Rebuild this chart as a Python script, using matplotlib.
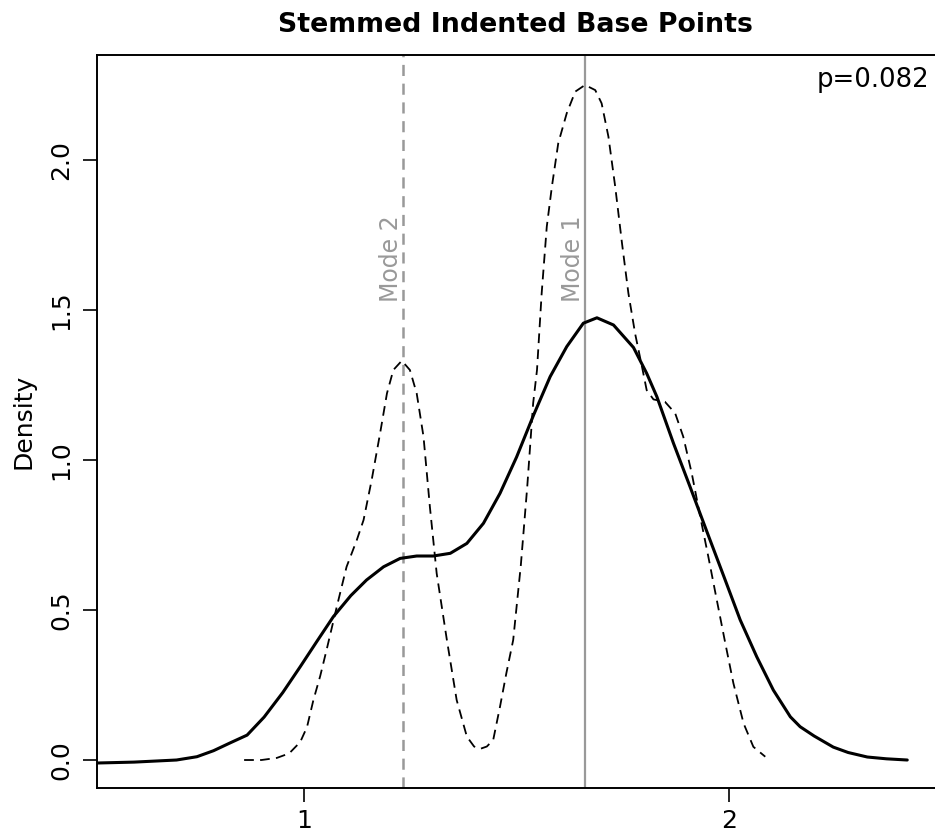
import matplotlib
matplotlib.use("Agg")
import matplotlib.pyplot as plt

plt.rcParams['font.family'] = ['DejaVu Sans']
plt.rcParams['lines.scale_dashes'] = False

title = "Stemmed Indented Base Points"
ylabel = "Density"
p_label = "p=0.082"
mode_labels = ["Mode 1", "Mode 2"]
mode_x = [1.661, 1.233]

solid_x = [0.513, 0.60, 0.70, 0.748, 0.787, 0.826, 0.866, 0.906, 0.95, 0.991,
           1.03, 1.069, 1.11, 1.147, 1.187, 1.226, 1.265, 1.304, 1.344, 1.383,
           1.422, 1.461, 1.50, 1.54, 1.579, 1.618, 1.657, 1.689, 1.728, 1.775,
           1.806, 1.83, 1.869, 1.908, 1.948, 1.987, 2.026, 2.065, 2.104, 2.144,
           2.167, 2.20, 2.245, 2.28, 2.325, 2.37, 2.419]
solid_y = [-0.01, -0.007, 0.0, 0.011, 0.031, 0.057, 0.083, 0.143, 0.225, 0.311,
           0.395, 0.478, 0.548, 0.60, 0.644, 0.672, 0.68, 0.68, 0.689, 0.722,
           0.789, 0.889, 1.01, 1.15, 1.278, 1.378, 1.456, 1.474, 1.45, 1.375,
           1.289, 1.211, 1.056, 0.911, 0.76, 0.614, 0.467, 0.344, 0.233, 0.144,
           0.111, 0.08, 0.043, 0.025, 0.01, 0.004, 0.0]

dash_x = [0.859, 0.90, 0.936, 0.965, 0.991, 1.007, 1.022, 1.038, 1.053, 1.077,
          1.10, 1.124, 1.14, 1.159, 1.179, 1.195, 1.21, 1.23, 1.249, 1.265,
          1.281, 1.296, 1.312, 1.336, 1.359, 1.383, 1.40, 1.414, 1.43, 1.445,
          1.461, 1.476, 1.492, 1.51, 1.525, 1.539, 1.548, 1.559, 1.571, 1.583,
          1.598, 1.618, 1.638, 1.661, 1.685, 1.70, 1.716, 1.732, 1.748, 1.763,
          1.779, 1.795, 1.806, 1.822, 1.849, 1.873, 1.892, 1.912, 1.932, 1.951,
          1.971, 1.991, 2.01, 2.034, 2.057, 2.085]
dash_y = [0.0, 0.0, 0.007, 0.022, 0.06, 0.11, 0.20, 0.28, 0.367, 0.511,
          0.644, 0.733, 0.80, 0.933, 1.09, 1.222, 1.30, 1.331, 1.30, 1.222,
          1.078, 0.844, 0.622, 0.40, 0.20, 0.078, 0.045, 0.037, 0.045, 0.067,
          0.178, 0.29, 0.40, 0.65, 0.91, 1.19, 1.30, 1.556, 1.778, 1.911,
          2.056, 2.156, 2.228, 2.25, 2.233, 2.189, 2.078, 1.911, 1.722, 1.556,
          1.42, 1.311, 1.233, 1.202, 1.194, 1.156, 1.078, 0.956, 0.811, 0.678,
          0.533, 0.389, 0.256, 0.122, 0.044, 0.011]

xticks = [1, 2]
yticks = [0.0, 0.5, 1.0, 1.5, 2.0]
ytick_labels = ["0.0", "0.5", "1.0", "1.5", "2.0"]

W, H = 935, 838
fig = plt.figure(figsize=(W / 100, H / 100), dpi=100)
ax = fig.add_axes([97 / W, 50 / H, (937 - 97) / W, 733 / H])
ax.set_xlim(0.5129, 2.489)
ax.set_ylim(-0.0933, 2.35)

grey = '#999999'
ax.axvline(mode_x[0], color=grey, lw=1.6, zorder=1)
l2 = ax.axvline(mode_x[1], color=grey, lw=1.8, zorder=1)
l2.set_dashes((8, 5.5))

ax.plot(solid_x, solid_y, color='black', lw=2.2, solid_joinstyle='round',
        solid_capstyle='round', zorder=3)
ld, = ax.plot(dash_x, dash_y, color='black', lw=1.3, zorder=3,
              dash_joinstyle='round')
ld.set_dashes((7, 4.5))

ax.text(mode_x[0], 1.527, mode_labels[0], rotation=90, color=grey, fontsize=17,
        ha='right', va='bottom', transform=ax.transData)
ax.text(mode_x[1], 1.527, mode_labels[1], rotation=90, color=grey, fontsize=17,
        ha='right', va='bottom', transform=ax.transData)

ax.set_xticks(xticks)
ax.set_xticklabels([str(v) for v in xticks])
ax.set_yticks(yticks)
ax.set_yticklabels(ytick_labels, rotation=90, va='center')
ax.tick_params(axis='both', direction='out', length=10, width=1.2, labelsize=18,
               color='black')
ax.tick_params(axis='x', pad=5)
ax.tick_params(axis='y', pad=7)
for s in ax.spines.values():
    s.set_linewidth(1.4)

ax.set_ylabel(ylabel, fontsize=18, labelpad=10)
fig.text(515 / W, 1 - 25 / H, title, ha='center', va='center', fontsize=19.3,
         fontweight='bold')
fig.text(929 / W, 1 - 80 / H, p_label, ha='right', va='center', fontsize=18.7)

fig.savefig("out.png", dpi=100)
